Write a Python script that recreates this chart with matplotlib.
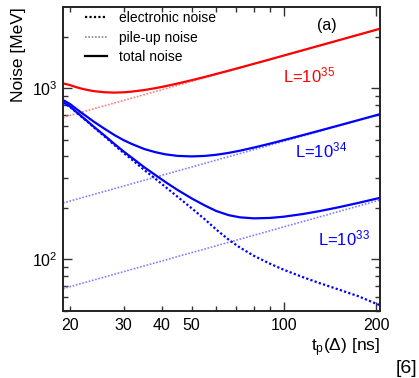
import matplotlib
matplotlib.use("Agg")
import numpy as np
import matplotlib.pyplot as plt
from matplotlib.lines import Line2D
from matplotlib.ticker import FixedLocator, FixedFormatter, NullFormatter

plt.rcParams['font.family'] = ['Liberation Sans', 'DejaVu Sans']
plt.rcParams['mathtext.default'] = 'regular'

# shaping time t_p(Delta) [ns]
t_ns = [19, 20, 21, 22, 23, 24, 26, 28, 30, 32, 35, 38, 41, 45, 50, 55, 60, 66, 72, 80,
        90, 100, 115, 130, 150, 175, 206]

# electronic noise [MeV] (independent of luminosity)
electronic = [826, 780, 723.5, 673.5, 630, 589, 522, 464.6, 418, 380.7, 333, 296.7, 265.7,
              232, 199, 172.5, 150, 130.6, 117.1, 104.8, 94.5, 87, 79, 73, 67, 61, 54]

# pile-up noise [MeV] for L = 1e33, 1e34, 1e35
pileup_33 = [67.6, 69.3, 71.0, 72.7, 74.3, 75.9, 79.0, 82.0, 84.9, 87.7, 91.7, 95.5, 99.2,
             104.0, 109.6, 114.9, 120.1, 125.9, 131.5, 138.6, 147.0, 155.0, 166.2, 176.7,
             189.8, 205.0, 222.5]
pileup_34 = [213.8, 219.1, 224.5, 229.9, 234.9, 240.0, 249.8, 259.3, 268.5, 277.3, 289.9,
             302.0, 313.7, 328.8, 346.6, 363.3, 379.8, 398.1, 415.8, 438.3, 464.8, 490.1,
             525.5, 558.7, 600.2, 648.2, 703.5]
pileup_35 = [676, 693, 710, 727, 743, 759, 790, 820, 849, 877, 917, 955, 992, 1040, 1096,
             1149, 1201, 1259, 1315, 1386, 1470, 1550, 1662, 1767, 1898, 2050, 2225]

# total noise = electronic and pile-up added in quadrature
total_33 = np.hypot(electronic, pileup_33)
total_34 = np.hypot(electronic, pileup_34)
total_35 = np.hypot(electronic, pileup_35)

x_major = [100, 200]
x_minor = [20, 30, 40, 50, 60, 70, 80, 90]
x_minor_labels = ['20', '30', '40', '50', '', '', '', '']

W, H = 419, 378
fig = plt.figure(figsize=(W / 100, H / 100), dpi=100)
ax = fig.add_axes([63 / W, 1 - 311 / H, (380 - 63) / W, (311 - 7) / H])

red = '#ff0000'
red_l = '#ff7a7a'
blue = '#0000ff'
blue_l = '#8080ff'

dot_e = (0, (1.0, 1.0))
dot_p = (0, (1.0, 1.0))

ax.plot(t_ns, pileup_33, color=blue_l, lw=1.2, ls=dot_p)
ax.plot(t_ns, pileup_34, color=blue_l, lw=1.2, ls=dot_p)
ax.plot(t_ns, pileup_35, color=red_l, lw=1.2, ls=dot_p)
ax.plot(t_ns, electronic, color=blue, lw=1.6, ls=dot_e)
ax.plot(t_ns, total_33, color=blue, lw=1.6)
ax.plot(t_ns, total_34, color=blue, lw=1.6)
ax.plot(t_ns, total_35, color=red, lw=1.6)

ax.set_xscale('log')
ax.set_yscale('log')
ax.set_xlim(19, 206)
ax.set_ylim(50, 2980)

ax.xaxis.set_major_locator(FixedLocator(x_major))
ax.xaxis.set_major_formatter(FixedFormatter([str(v) for v in x_major]))
ax.xaxis.set_minor_locator(FixedLocator(x_minor))
ax.xaxis.set_minor_formatter(FixedFormatter(x_minor_labels))
ax.yaxis.set_minor_formatter(NullFormatter())

for a in ('x', 'y'):
    ax.tick_params(axis=a, which='both', direction='in', top=True, right=True,
                   labelsize=11.5, color='#333333', width=1.0)
ax.tick_params(which='major', length=6.5)
ax.tick_params(which='minor', length=3.3)
ax.tick_params(axis='x', which='both', pad=5)
ax.tick_params(axis='y', which='both', pad=4)

for s in ax.spines.values():
    s.set_linewidth(1.4)
    s.set_color('#222222')

ax.set_ylabel('Noise [MeV]', fontsize=12.5, loc='top')
ax.yaxis.set_label_coords(-0.117, 1.0)
ax.set_xlabel('t$_{p}$(Δ) [ns]', fontsize=12.5, loc='right')
ax.xaxis.set_label_coords(1.0, -0.082)

handles = [Line2D([], [], color='black', lw=1.6, ls=dot_e),
           Line2D([], [], color='#888888', lw=1.2, ls=dot_p),
           Line2D([], [], color='black', lw=1.6)]
ax.legend(handles, ['electronic noise', 'pile-up noise', 'total noise'],
          loc='upper left', bbox_to_anchor=(22 / 317, 1 - 4 / 304), frameon=False,
          fontsize=10, handlelength=1.6, handletextpad=0.85, labelspacing=0.4,
          borderpad=0, borderaxespad=0)

def ftext(x, y, s, **kw):
    fig.text(x / W, 1 - y / H, s, **kw)

ftext(283, 82, 'L=10$^{35}$', color=red, fontsize=12, va='baseline', ha='left')
ftext(295, 157, 'L=10$^{34}$', color=blue, fontsize=12, va='baseline', ha='left')
ftext(318, 245, 'L=10$^{33}$', color=blue, fontsize=12, va='baseline', ha='left')
ftext(317, 30, '(a)', color='black', fontsize=11.5, va='baseline', ha='left')
ftext(417, 373, '[6]', color='black', fontsize=14, va='baseline', ha='right')

fig.savefig('out.png', dpi=100)
